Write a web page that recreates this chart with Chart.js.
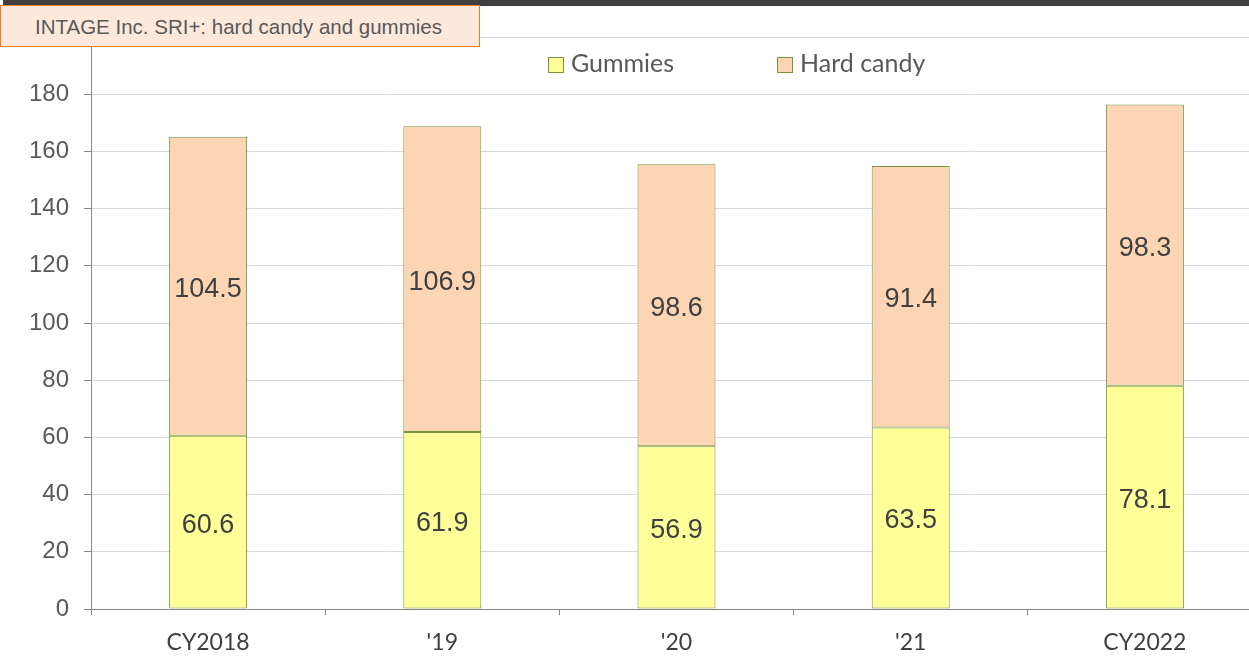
<!DOCTYPE html>
<html>
<head>
<meta charset="utf-8">
<script src="https://cdn.jsdelivr.net/npm/chart.js@4.4.1/dist/chart.umd.min.js"></script>
<style>
    html, body { margin: 0; padding: 0; background: #fff; overflow: hidden; }
    #wrap { position: absolute; left: 0; top: 0; width: 1262px; height: 657px; }
    #topBar { position: absolute; left: 3px; top: 0; width: 1246px; height: 6px; background: #3f3f3f; }
    #titleBox {
        position: absolute; left: 0; top: 5px; width: 480px; height: 42px;
        background: #fde9db; border: 1.5px solid #ed7d31; box-sizing: border-box;
        font-family: "Liberation Sans", Arial, sans-serif; font-size: 20.5px; color: #595959;
        line-height: 42px; padding-left: 34px; white-space: nowrap;
    }
    #legend { position: absolute; top: 47px; left: 548px; font-family: Lato, "Open Sans", sans-serif; font-size: 25px; color: #595959; }
    .item { position: absolute; white-space: nowrap; line-height: 30px; }
    .box { display: inline-block; width: 14px; height: 14px; border: 1px solid #77933c; margin-right: 7px; vertical-align: -1px; }
</style>
</head>
<body>
<div id="wrap"><canvas id="candyChart" width="1262" height="657"></canvas></div>
<div id="topBar"></div>
<div id="titleBox">INTAGE Inc. SRI+: hard candy and gummies</div>
<div id="legend"></div>
<script>
// Chart data
const categories = ['CY2018', "'19", "'20", "'21", 'CY2022'];
const gummies = [60.6, 61.9, 56.9, 63.5, 78.1];
const hardCandy = [104.5, 106.9, 98.6, 91.4, 98.3];
const seriesNames = ['Gummies', 'Hard candy'];
const seriesColors = ['#ffff99', '#fcd5b4'];
const yTicks = [0, 20, 40, 60, 80, 100, 120, 140, 160, 180, 200];

// Legend built from the series
const legend = document.getElementById('legend');
const legendOffsets = [0, 229];
seriesNames.forEach((name, i) => {
    const item = document.createElement('div');
    item.className = 'item';
    item.style.left = legendOffsets[i] + 'px';
    item.innerHTML = '<span class="box" style="background:' + seriesColors[i] + '"></span>' + name;
    legend.appendChild(item);
});

// Value labels in the middle of each segment
const segmentLabels = {
    id: 'segmentLabels',
    afterDatasetsDraw(chart) {
        const ctx = chart.ctx;
        ctx.save();
        ctx.font = '27px "Liberation Sans", Arial, sans-serif';
        ctx.fillStyle = '#404040';
        ctx.textAlign = 'center';
        ctx.textBaseline = 'middle';
        chart.data.datasets.forEach((ds, i) => {
            chart.getDatasetMeta(i).data.forEach((bar, j) => {
                const mid = (bar.y + bar.base) / 2;
                ctx.fillText(ds.data[j].toFixed(1), bar.x, mid + 3);
            });
        });
        ctx.restore();
    }
};

const barStyle = {
    borderColor: '#77933c',
    borderWidth: 1,
    borderSkipped: false,
    categoryPercentage: 1,
    barPercentage: 0.333
};

new Chart(document.getElementById('candyChart'), {
    type: 'bar',
    data: {
        labels: categories,
        datasets: [
            Object.assign({ label: seriesNames[0], data: gummies, backgroundColor: seriesColors[0] }, barStyle),
            Object.assign({ label: seriesNames[1], data: hardCandy, backgroundColor: seriesColors[1] }, barStyle)
        ]
    },
    options: {
        responsive: false,
        animation: false,
        layout: { padding: { top: 37, right: 0, bottom: 0, left: 0 } },
        plugins: {
            legend: { display: false },
            tooltip: { enabled: false }
        },
        scales: {
            x: {
                stacked: true,
                afterFit: (scale) => { scale.height = 48; },
                grid: { drawOnChartArea: false, drawTicks: true, tickLength: 6, color: '#868686', offset: true },
                border: { color: '#868686', width: 1 },
                ticks: {
                    color: '#404040',
                    padding: 14,
                    font: { family: 'Lato, "Open Sans", sans-serif', size: 23 }
                }
            },
            y: {
                stacked: true,
                min: 0,
                max: 200,
                afterFit: (scale) => { scale.width = 91; },
                afterBuildTicks: (scale) => { scale.ticks = yTicks.map(v => ({ value: v })); },
                grid: { color: '#d9d9d9', tickColor: '#868686', tickLength: 7, lineWidth: 1 },
                border: { color: '#868686', width: 1 },
                ticks: {
                    color: '#595959',
                    padding: 15,
                    font: { family: '"Liberation Sans", Arial, sans-serif', size: 24 }
                }
            }
        }
    },
    plugins: [segmentLabels]
});
</script>
</body>
</html>
